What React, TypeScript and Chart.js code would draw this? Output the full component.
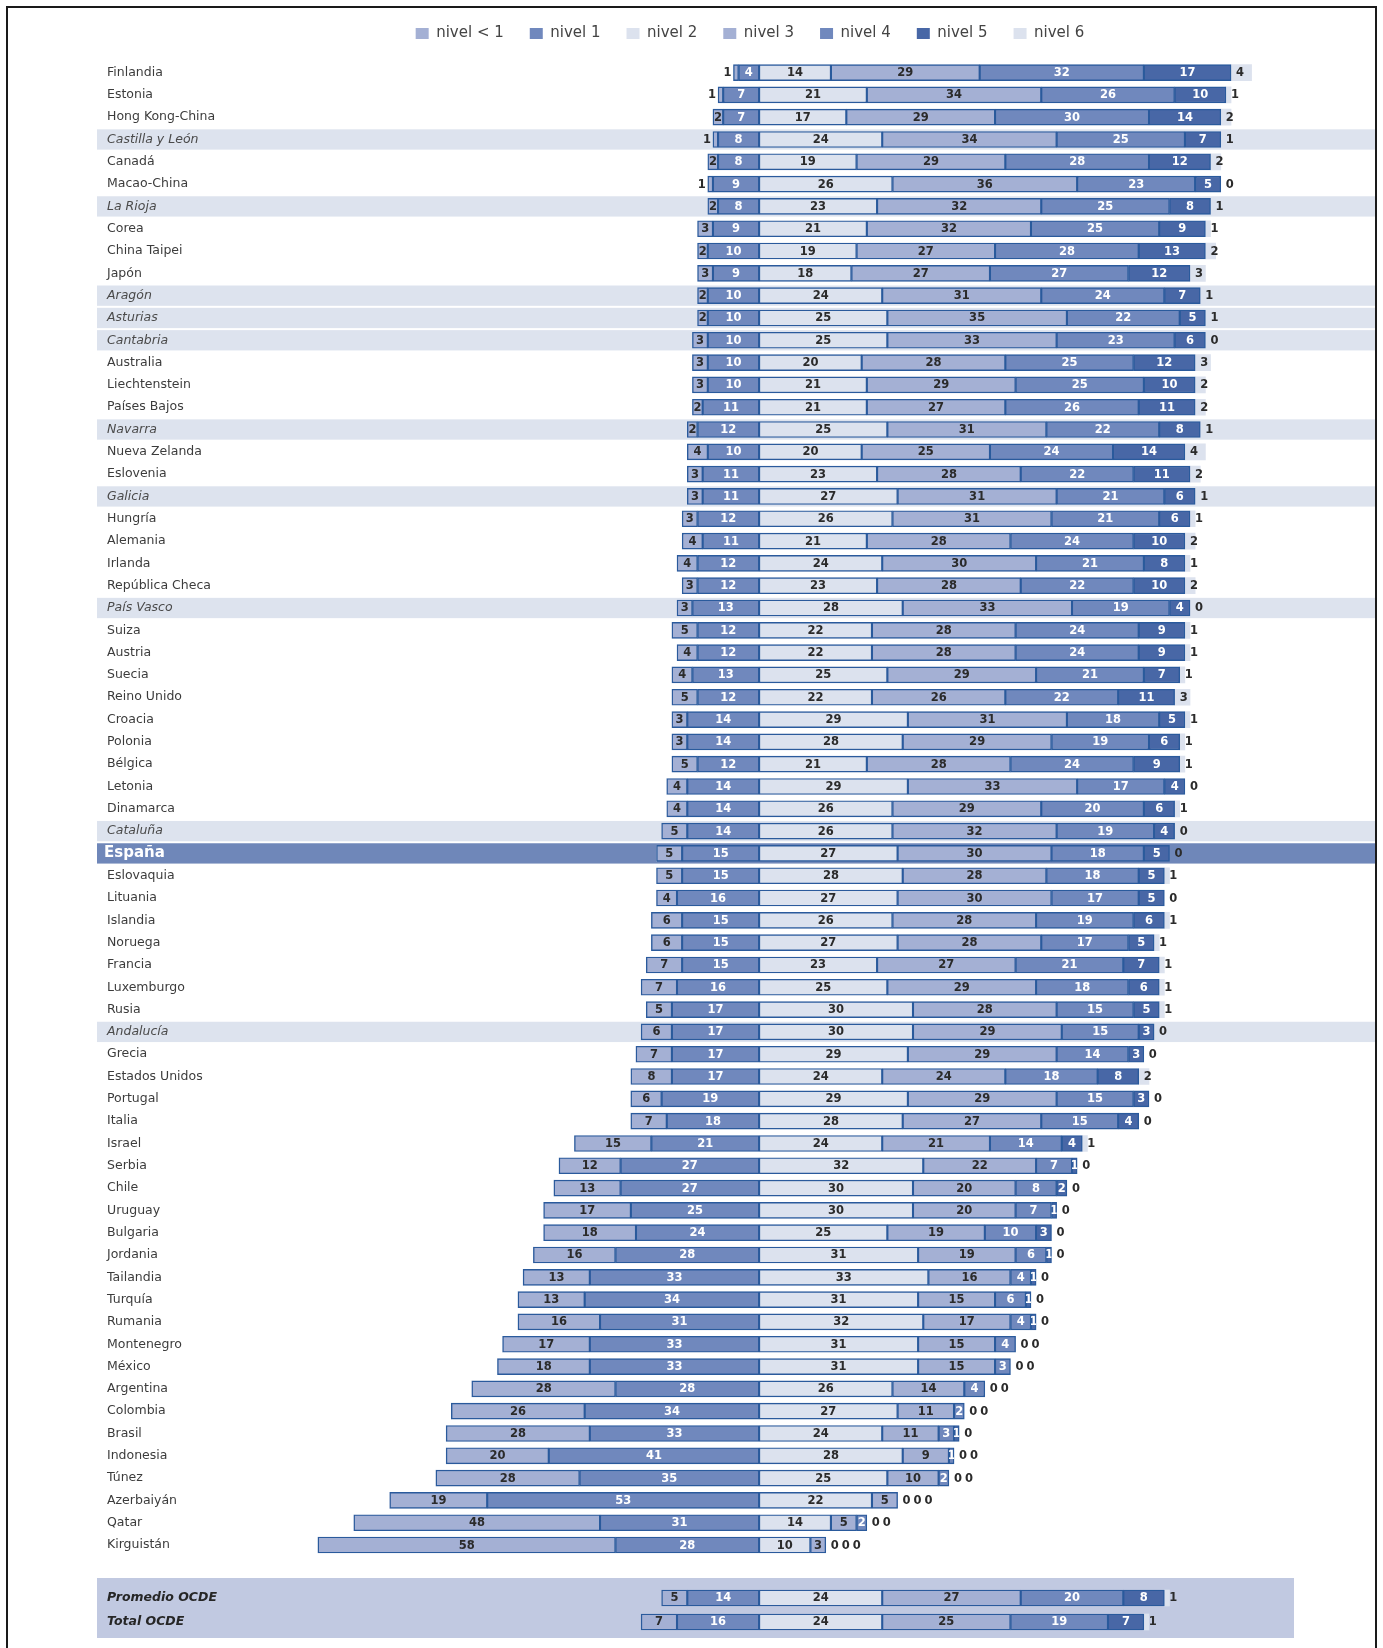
import React, { useEffect, useRef } from 'react';
import { Chart, registerables } from 'chart.js';

Chart.register(...registerables);

// ---------- DATA ----------
const countries = [
  'Finlandia', 'Estonia', 'Hong Kong-China', 'Castilla y León', 'Canadá', 'Macao-China', 'La Rioja', 'Corea',
  'China Taipei', 'Japón', 'Aragón', 'Asturias', 'Cantabria', 'Australia', 'Liechtenstein', 'Países Bajos',
  'Navarra', 'Nueva Zelanda', 'Eslovenia', 'Galicia', 'Hungría', 'Alemania', 'Irlanda', 'República Checa',
  'País Vasco', 'Suiza', 'Austria', 'Suecia', 'Reino Unido', 'Croacia', 'Polonia', 'Bélgica', 'Letonia',
  'Dinamarca', 'Cataluña', 'España', 'Eslovaquia', 'Lituania', 'Islandia', 'Noruega', 'Francia', 'Luxemburgo',
  'Rusia', 'Andalucía', 'Grecia', 'Estados Unidos', 'Portugal', 'Italia', 'Israel', 'Serbia', 'Chile',
  'Uruguay', 'Bulgaria', 'Jordania', 'Tailandia', 'Turquía', 'Rumania', 'Montenegro', 'México', 'Argentina',
  'Colombia', 'Brasil', 'Indonesia', 'Túnez', 'Azerbaiyán', 'Qatar', 'Kirguistán',
];

const regions = [
  'Castilla y León', 'La Rioja', 'Aragón', 'Asturias', 'Cantabria', 'Navarra', 'Galicia', 'País Vasco',
  'Cataluña', 'Andalucía',
];
const highlighted = 'España';

const nivelMenos1 = [
  1, 1, 2, 1, 2, 1, 2, 3, 2, 3, 2, 2, 3, 3, 3, 2, 2, 4, 3, 3, 3, 4, 4, 3, 3, 5, 4, 4, 5, 3, 3, 5, 4, 4, 5, 5,
  5, 4, 6, 6, 7, 7, 5, 6, 7, 8, 6, 7, 15, 12, 13, 17, 18, 16, 13, 13, 16, 17, 18, 28, 26, 28, 20, 28, 19, 48, 58,
];
const nivel1 = [
  4, 7, 7, 8, 8, 9, 8, 9, 10, 9, 10, 10, 10, 10, 10, 11, 12, 10, 11, 11, 12, 11, 12, 12, 13, 12, 12, 13, 12, 14,
  14, 12, 14, 14, 14, 15, 15, 16, 15, 15, 15, 16, 17, 17, 17, 17, 19, 18, 21, 27, 27, 25, 24, 28, 33, 34, 31, 33,
  33, 28, 34, 33, 41, 35, 53, 31, 28,
];
const nivel2 = [
  14, 21, 17, 24, 19, 26, 23, 21, 19, 18, 24, 25, 25, 20, 21, 21, 25, 20, 23, 27, 26, 21, 24, 23, 28, 22, 22, 25,
  22, 29, 28, 21, 29, 26, 26, 27, 28, 27, 26, 27, 23, 25, 30, 30, 29, 24, 29, 28, 24, 32, 30, 30, 25, 31, 33, 31,
  32, 31, 31, 26, 27, 24, 28, 25, 22, 14, 10,
];
const nivel3 = [
  29, 34, 29, 34, 29, 36, 32, 32, 27, 27, 31, 35, 33, 28, 29, 27, 31, 25, 28, 31, 31, 28, 30, 28, 33, 28, 28, 29,
  26, 31, 29, 28, 33, 29, 32, 30, 28, 30, 28, 28, 27, 29, 28, 29, 29, 24, 29, 27, 21, 22, 20, 20, 19, 19, 16, 15,
  17, 15, 15, 14, 11, 11, 9, 10, 5, 5, 3,
];
const nivel4 = [
  32, 26, 30, 25, 28, 23, 25, 25, 28, 27, 24, 22, 23, 25, 25, 26, 22, 24, 22, 21, 21, 24, 21, 22, 19, 24, 24, 21,
  22, 18, 19, 24, 17, 20, 19, 18, 18, 17, 19, 17, 21, 18, 15, 15, 14, 18, 15, 15, 14, 7, 8, 7, 10, 6, 4, 6, 4, 4,
  3, 4, 2, 3, 1, 2, 0, 2, 0,
];
const nivel5 = [
  17, 10, 14, 7, 12, 5, 8, 9, 13, 12, 7, 5, 6, 12, 10, 11, 8, 14, 11, 6, 6, 10, 8, 10, 4, 9, 9, 7, 11, 5, 6, 9, 4,
  6, 4, 5, 5, 5, 6, 5, 7, 6, 5, 3, 3, 8, 3, 4, 4, 1, 2, 1, 3, 1, 1, 1, 1, 0, 0, 0, 0, 1, 0, 0, 0, 0, 0,
];
const nivel6 = [
  4, 1, 2, 1, 2, 0, 1, 1, 2, 3, 1, 1, 0, 3, 2, 2, 1, 4, 2, 1, 1, 2, 1, 2, 0, 1, 1, 1, 3, 1, 1, 1, 0, 1, 0, 0, 1,
  0, 1, 1, 1, 1, 1, 0, 0, 2, 0, 0, 1, 0, 0, 0, 0, 0, 0, 0, 0, 0, 0, 0, 0, 0, 0, 0, 0, 0, 0,
];

const avgLabels = ['Promedio OCDE', 'Total OCDE'];
const avgMenos1 = [5, 7];
const avgNivel1 = [14, 16];
const avgNivel2 = [24, 24];
const avgNivel3 = [27, 25];
const avgNivel4 = [20, 19];
const avgNivel5 = [8, 7];
const avgNivel6 = [1, 1];

const legendLabels = ['nivel < 1', 'nivel 1', 'nivel 2', 'nivel 3', 'nivel 4', 'nivel 5', 'nivel 6'];

// ---------- STYLE ----------
const FONT = '"DejaVu Sans", "Liberation Sans", sans-serif';
const COLORS = ['#a4b0d4', '#7088bd', '#dce2ee', '#a4b0d4', '#7088bd', '#4867a6', '#dce2ee'];
const TEXT_COLORS = ['#2b2b2b', '#ffffff', '#2b2b2b', '#2b2b2b', '#ffffff', '#ffffff', '#2b2b2b'];
const BORDER = '#2a5a9c';
const X_MIN = -124;
const X_MAX = 120.45;
const BAND_LEFT = 97;
const BAND_RIGHT = 1375;
const LABEL_X = 107;

type Series = number[][];

function buildDatasets(series: Series) {
  const stackOrder = [1, 0, 2, 3, 4, 5, 6];
  return stackOrder.map((k) => ({
    label: legendLabels[k],
    levelIndex: k,
    data: k < 2 ? series[k].map((v) => -v) : series[k],
    backgroundColor: COLORS[k],
    borderColor: k === 6 ? 'rgba(0,0,0,0)' : BORDER,
    borderWidth: k === 6 ? 0 : 1.4,
    borderSkipped: false as const,
    barThickness: 16,
  }));
}

function makeValueLabels(series: Series) {
  return {
    id: 'valueLabels',
    afterDatasetsDraw(chart: any) {
      const ctx: CanvasRenderingContext2D = chart.ctx;
      const metas: any[] = [];
      chart.data.datasets.forEach((d: any, i: number) => {
        metas[d.levelIndex] = chart.getDatasetMeta(i);
      });
      const xs = chart.scales.x;
      const n = chart.data.labels.length;
      ctx.save();
      ctx.font = `bold 11.5px ${FONT}`;
      ctx.textBaseline = 'middle';
      ctx.textAlign = 'center';
      const drawInside = (el: any, k: number, v: number) => {
        const p = el.getProps(['x', 'base', 'y', 'height'], true);
        const l = Math.min(p.x, p.base);
        const r = Math.max(p.x, p.base);
        ctx.save();
        ctx.beginPath();
        ctx.rect(l, p.y - p.height / 2, r - l, p.height);
        ctx.clip();
        ctx.fillStyle = TEXT_COLORS[k];
        ctx.fillText(String(v), (l + r) / 2, p.y + 0.5);
        ctx.restore();
      };
      for (let j = 0; j < n; j++) {
        const y = chart.scales.y.getPixelForValue(j);
        // left side
        for (const k of [0, 1]) {
          const v = series[k][j];
          const el = metas[k].data[j];
          if (k === 0 && v <= 1) {
            const p = el.getProps(['x', 'base'], true);
            ctx.fillStyle = TEXT_COLORS[0];
            ctx.fillText(String(v), Math.min(p.x, p.base) - 6, y + 0.5);
          } else {
            drawInside(el, k, v);
          }
        }
        // right side
        let total = 0;
        for (let k = 2; k <= 5; k++) total += series[k][j];
        let cursor = xs.getPixelForValue(total) + 9;
        for (let k = 2; k <= 5; k++) {
          const v = series[k][j];
          if (v > 0) {
            drawInside(metas[k].data[j], k, v);
          } else {
            ctx.fillStyle = '#2b2b2b';
            ctx.fillText('0', cursor, y + 0.5);
            cursor += 11;
          }
        }
        ctx.fillStyle = TEXT_COLORS[6];
        ctx.fillText(String(series[6][j]), cursor, y + 0.5);
      }
      ctx.restore();
    },
  };
}

const rowLabels = {
  id: 'rowLabels',
  beforeDatasetsDraw(chart: any) {
    const ctx: CanvasRenderingContext2D = chart.ctx;
    const ys = chart.scales.y;
    const labels: string[] = chart.data.labels;
    const pitch = labels.length > 1 ? ys.getPixelForValue(1) - ys.getPixelForValue(0) : 22;
    ctx.save();
    ctx.textBaseline = 'middle';
    ctx.textAlign = 'left';
    labels.forEach((name, j) => {
      const y = ys.getPixelForValue(j);
      if (name === highlighted) {
        ctx.fillStyle = '#6f87b9';
        ctx.fillRect(BAND_LEFT, y - pitch / 2 + 1, BAND_RIGHT - BAND_LEFT, pitch - 2);
        ctx.fillStyle = '#ffffff';
        ctx.font = `bold 15px ${FONT}`;
        ctx.fillText(name, LABEL_X - 3, y);
      } else if (regions.includes(name)) {
        ctx.fillStyle = '#dde3ee';
        ctx.fillRect(BAND_LEFT, y - pitch / 2 + 1, BAND_RIGHT - BAND_LEFT, pitch - 2);
        ctx.fillStyle = '#4a4a4a';
        ctx.font = `italic 12.5px ${FONT}`;
        ctx.fillText(name, LABEL_X, y);
      } else {
        ctx.fillStyle = '#3c3c3c';
        ctx.font = `12.5px ${FONT}`;
        ctx.fillText(name, LABEL_X, y);
      }
    });
    ctx.restore();
  },
};

const avgLabelsPlugin = {
  id: 'avgLabels',
  beforeDatasetsDraw(chart: any) {
    const ctx: CanvasRenderingContext2D = chart.ctx;
    const ys = chart.scales.y;
    const area = chart.chartArea;
    ctx.save();
    ctx.fillStyle = '#c1c9e1';
    ctx.fillRect(BAND_LEFT, area.top - 8, 1294 - BAND_LEFT, area.bottom - area.top + 12);
    ctx.textBaseline = 'middle';
    ctx.textAlign = 'left';
    ctx.fillStyle = '#262626';
    ctx.font = `italic bold 12.5px ${FONT}`;
    (chart.data.labels as string[]).forEach((name, j) => {
      ctx.fillText(name, LABEL_X, ys.getPixelForValue(j));
    });
    ctx.restore();
  },
};

const legendSpacing = {
  id: 'legendSpacing',
  beforeLayout(chart: any) {
    const lg = chart.legend;
    if (lg && !lg._patched) {
      const orig = lg.fit;
      lg.fit = function () {
        orig.call(this);
        this.height = 61.4;
      };
      lg._patched = true;
    }
  },
};

function baseOptions(showLegend: boolean, padTop: number, padBottom: number): any {
  return {
    indexAxis: 'y',
    responsive: false,
    animation: false,
    events: [],
    layout: { padding: { left: 123, right: 6, top: padTop, bottom: padBottom } },
    scales: {
      x: { type: 'linear', min: X_MIN, max: X_MAX, stacked: true, display: false },
      y: { type: 'category', stacked: true, display: false, offset: true },
    },
    plugins: {
      tooltip: { enabled: false },
      legend: showLegend
        ? {
            display: true,
            position: 'top',
            labels: {
              boxWidth: 13,
              boxHeight: 11,
              padding: 26,
              color: '#444444',
              font: { family: FONT, size: 15 },
              generateLabels: (chart: any) =>
                Chart.defaults.plugins.legend.labels
                  .generateLabels(chart)
                  .map((it: any) => ({ ...it, lineWidth: 0, strokeStyle: 'rgba(0,0,0,0)' })),
              sort: (a: any, b: any, data: any) =>
                data.datasets[a.datasetIndex].levelIndex - data.datasets[b.datasetIndex].levelIndex,
            },
          }
        : { display: false },
    },
  };
}

export default function App() {
  const mainRef = useRef<HTMLCanvasElement | null>(null);
  const avgRef = useRef<HTMLCanvasElement | null>(null);

  useEffect(() => {
    const mainSeries: Series = [nivelMenos1, nivel1, nivel2, nivel3, nivel4, nivel5, nivel6];
    const avgSeries: Series = [avgMenos1, avgNivel1, avgNivel2, avgNivel3, avgNivel4, avgNivel5, avgNivel6];

    const main = new Chart(mainRef.current as HTMLCanvasElement, {
      type: 'bar',
      data: { labels: countries, datasets: buildDatasets(mainSeries) as any },
      options: baseOptions(true, 0, 8.8),
      plugins: [legendSpacing, rowLabels, makeValueLabels(mainSeries)],
    });
    const avg = new Chart(avgRef.current as HTMLCanvasElement, {
      type: 'bar',
      data: { labels: avgLabels, datasets: buildDatasets(avgSeries) as any },
      options: baseOptions(false, 21, 14),
      plugins: [avgLabelsPlugin, makeValueLabels(avgSeries)],
    });
    return () => {
      main.destroy();
      avg.destroy();
    };
  }, []);

  return (
    <div>
      <div
        style={{
          position: 'absolute',
          left: 6,
          top: 6,
          width: 1371,
          height: 1642,
          boxSizing: 'border-box',
          borderTop: '2px solid #1a1a1a',
          borderLeft: '2px solid #1a1a1a',
          borderRight: '2px solid #1a1a1a',
        }}
      />
      <canvas
        ref={mainRef}
        width={1383}
        height={1565}
        style={{ position: 'absolute', left: 0, top: 0, width: 1383, height: 1565 }}
      />
      <canvas
        ref={avgRef}
        width={1383}
        height={83}
        style={{ position: 'absolute', left: 0, top: 1565, width: 1383, height: 83 }}
      />
    </div>
  );
}
